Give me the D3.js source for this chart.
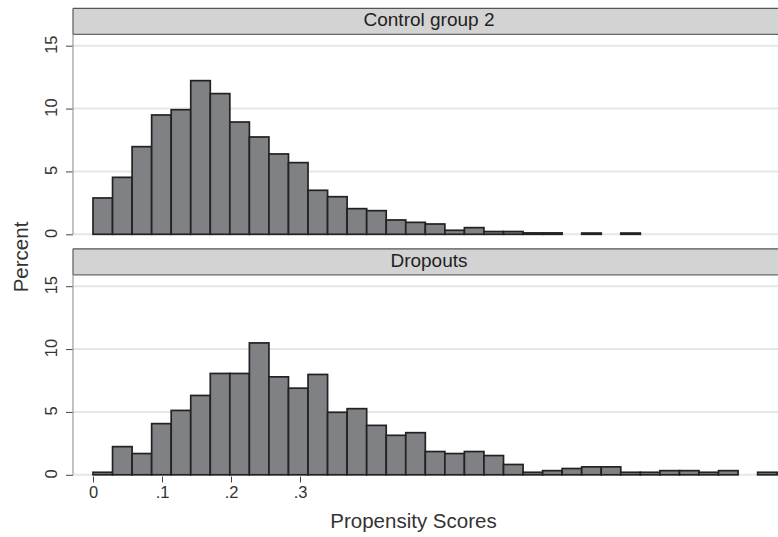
<!DOCTYPE html>
<html>
<head>
<meta charset="utf-8">
<script src="https://cdn.jsdelivr.net/npm/d3@7"></script>
<style>
  body { margin: 0; background: #fff; }
  svg { display: block; font-family: "Liberation Sans", Arial, sans-serif; }
</style>
</head>
<body>
<div id="chart"></div>
<script>
// histogram data: percent per bin, bins start at 0 with equal width
var binWidth = 0.02833;
var panels = ["Control group 2", "Dropouts"];
var control2 = [2.89, 4.53, 6.97, 9.49, 9.91, 12.22, 11.19, 8.93, 7.74, 6.39,
  5.70, 3.50, 2.99, 2.04, 1.88, 1.14, 0.95, 0.82, 0.32, 0.53,
  0.22, 0.22, 0.11, 0.11, 0, 0.1, 0, 0.1, 0, 0, 0, 0, 0, 0, 0];
var dropouts = [0.2, 2.24, 1.69, 4.07, 5.12, 6.31, 8.06, 8.06, 10.49, 7.79,
  6.89, 7.98, 4.97, 5.26, 3.93, 3.14, 3.35, 1.85, 1.69, 1.85,
  1.53, 0.82, 0.2, 0.33, 0.5, 0.63, 0.63, 0.2, 0.2, 0.33,
  0.33, 0.2, 0.33, 0, 0.2];
var xTicks = [0, 0.1, 0.2, 0.3];
var xTickLabels = ["0", ".1", ".2", ".3"];
var yTicks = [0, 5, 10, 15];

var width = 778, height = 537;
var left = 73, right = 778;
var panelOffset = 240.5;

var svg = d3.select("#chart").append("svg")
  .attr("width", width).attr("height", height);

var x = d3.scaleLinear().domain([0, 0.1]).range([93, 162]);

var series = [control2, dropouts];

series.forEach(function(vals, p) {
  var off = p * panelOffset;
  var y = d3.scaleLinear().domain([0, 15]).range([234.3 + off, 45.7 + off]);
  var g = svg.append("g");

  // grid lines
  g.selectAll("line.grid").data(yTicks).enter().append("line")
    .attr("class", "grid")
    .attr("x1", left).attr("x2", right)
    .attr("y1", function(d) { return y(d); })
    .attr("y2", function(d) { return y(d); })
    .style("stroke", "#e6e6e6").style("stroke-width", 2);

  // bars
  var bins = vals.map(function(v, i) { return {x0: i * binWidth, x1: (i + 1) * binWidth, v: v}; })
    .filter(function(d) { return d.v > 0; });
  g.selectAll("rect.bar").data(bins).enter().append("rect")
    .attr("class", "bar")
    .attr("x", function(d) { return x(d.x0); })
    .attr("width", function(d) { return x(d.x1) - x(d.x0); })
    .attr("y", function(d) { return y(d.v); })
    .attr("height", function(d) { return y(0) - y(d.v); })
    .style("fill", "#808184")
    .style("stroke", "#222")
    .style("stroke-width", 1.7);

  // y axis
  var ax = g.append("g").attr("transform", "translate(" + left + ",0)")
    .call(d3.axisLeft(y).tickValues(yTicks).tickSize(7).tickFormat(d3.format("d")));
  ax.select(".domain").remove();
  ax.selectAll(".tick line").style("stroke", "#444");
  ax.selectAll(".tick text")
    .attr("x", 0).attr("dy", null)
    .attr("transform", "translate(-22.5,-1.5) rotate(-90)")
    .attr("text-anchor", "middle")
    .attr("dominant-baseline", "central")
    .style("font-size", "16.5px").style("fill", "#333")
    .style("font-family", "'Liberation Sans', Arial, sans-serif");
  g.append("line")
    .attr("x1", left).attr("x2", left)
    .attr("y1", 34.3 + off).attr("y2", y(0))
    .style("stroke", "#9a9a9a").style("stroke-width", 1.2);

  // strip header
  g.append("rect")
    .attr("x", left).attr("y", 8.3 + off)
    .attr("width", right - left + 2).attr("height", 26)
    .style("fill", "#d3d3d3");
  g.append("line").attr("x1", left).attr("x2", right)
    .attr("y1", 8.3 + off).attr("y2", 8.3 + off)
    .style("stroke", "#555").style("stroke-width", 1.3);
  g.append("line").attr("x1", left).attr("x2", right)
    .attr("y1", 34.3 + off).attr("y2", 34.3 + off)
    .style("stroke", "#666").style("stroke-width", 1.3);
  g.append("line").attr("x1", left).attr("x2", left)
    .attr("y1", 8.3 + off).attr("y2", 34.3 + off)
    .style("stroke", "#666").style("stroke-width", 1.3);
  g.append("text")
    .attr("x", 429).attr("y", 26 + off)
    .attr("text-anchor", "middle")
    .style("font-size", "19px").style("fill", "#222")
    .text(panels[p]);
});

// x axis on bottom panel
var xa = svg.append("g").attr("transform", "translate(0,476.5)")
  .call(d3.axisBottom(x).tickValues(xTicks).tickSize(6)
    .tickFormat(function(d, i) { return xTickLabels[i]; }));
xa.select(".domain").remove();
xa.selectAll(".tick line").style("stroke", "#444");
xa.selectAll(".tick text")
  .attr("y", 10)
  .style("font-size", "16.5px").style("fill", "#333")
  .style("font-family", "'Liberation Sans', Arial, sans-serif");

svg.append("text")
  .attr("x", 413.5).attr("y", 528)
  .attr("text-anchor", "middle")
  .style("font-size", "20.5px").style("fill", "#333")
  .text("Propensity Scores");

svg.append("text")
  .attr("transform", "translate(28,257) rotate(-90)")
  .attr("text-anchor", "middle")
  .style("font-size", "20.5px").style("fill", "#333")
  .text("Percent");
</script>
</body>
</html>
